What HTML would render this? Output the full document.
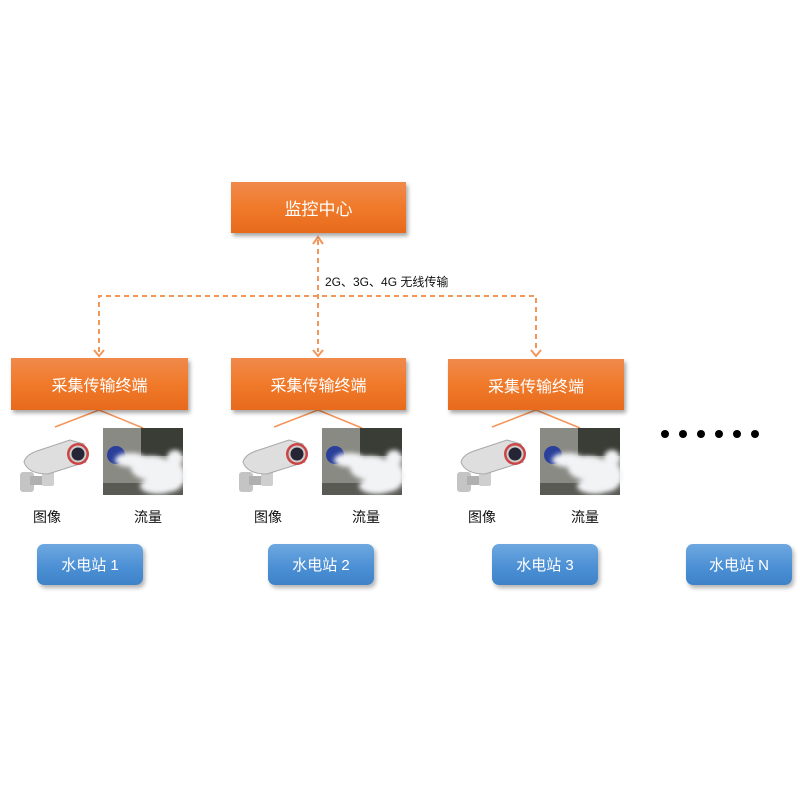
<!DOCTYPE html>
<html><head><meta charset="utf-8"><style>
body{margin:0;width:800px;height:800px;background:#fff;position:relative;overflow:hidden;font-family:"Liberation Sans","Noto Sans CJK SC",sans-serif}
.o{position:absolute;background:linear-gradient(#f08a4c,#f07a2a 50%,#e86a1c);color:#fff;font-size:16px;display:flex;align-items:center;justify-content:center;box-shadow:2px 3px 4px rgba(0,0,0,.35)}
.b{position:absolute;width:106px;height:41px;border-radius:7px;background:linear-gradient(#6ea8e0,#4a8ed4 60%,#3f82c8);color:#fff;font-size:15px;display:flex;align-items:center;justify-content:center;box-shadow:2px 3px 4px rgba(0,0,0,.3)}
.l{position:absolute;font-size:14px;color:#111}
.d{position:absolute;width:8px;height:8px;border-radius:50%;background:#000;top:430px}
</style></head><body>
<svg width="800" height="800" style="position:absolute;left:0;top:0">
<defs>
<filter id="bl"><feGaussianBlur stdDeviation="2.5"/></filter>
<g id="cam">
<rect x="0" y="34" width="14" height="20" rx="3" fill="#c4c4c4"/>
<rect x="10" y="38" width="16" height="9" fill="#b0b0b0"/>
<rect x="22" y="26" width="12" height="22" rx="2" fill="#cfcfcf"/>
<path d="M4 24 Q6 16 20 12 L50 2 L64 6 L66 24 L28 36 Q8 36 4 24Z" fill="#dedede" stroke="#a8a8a8"/>
<circle cx="58" cy="16" r="11" fill="#c44"/>
<circle cx="58" cy="16" r="8.5" fill="#ccc"/>
<circle cx="58" cy="16" r="6.5" fill="#252535"/>
</g>
<g id="water">
<rect width="80" height="67" fill="#8a8a84"/>
<rect x="38" width="42" height="28" fill="#3a3d36"/>
<rect x="0" y="55" width="80" height="12" fill="#5a5a55"/>
<circle cx="13" cy="27" r="9" fill="#2a3f9a"/>
<g filter="url(#bl)" fill="#f2f3f5">
<ellipse cx="28" cy="32" rx="16" ry="7"/>
<ellipse cx="48" cy="40" rx="20" ry="12"/>
<ellipse cx="66" cy="48" rx="16" ry="16"/>
<ellipse cx="55" cy="58" rx="18" ry="8"/>
<ellipse cx="72" cy="30" rx="8" ry="8"/>
</g>
</g>
</defs>
<g stroke="#f4955a" stroke-width="2" stroke-dasharray="5,4" fill="none">
<line x1="318" y1="240" x2="318" y2="352"/>
<polyline points="99,352 99,296 536,296 536,352"/>
</g>
<g stroke="#f4955a" stroke-width="2" fill="none">
<polyline points="313,244 318,237 323,244"/>
<polyline points="94,350 99,356 104,350"/>
<polyline points="313,350 318,356 323,350"/>
<polyline points="531,350 536,356 541,350"/>
</g>
<g stroke="#f4955a" stroke-width="1.5">
<line x1="99" y1="410" x2="55" y2="427"/><line x1="99" y1="410" x2="143" y2="428"/>
<line x1="318" y1="410" x2="274" y2="427"/><line x1="318" y1="410" x2="362" y2="428"/>
<line x1="536" y1="410" x2="492" y2="427"/><line x1="536" y1="410" x2="580" y2="428"/>
</g>
<use href="#cam" x="20" y="438"/><use href="#cam" x="239" y="438"/><use href="#cam" x="457" y="438"/>
<use href="#water" x="103" y="428"/><use href="#water" x="322" y="428"/><use href="#water" x="540" y="428"/>
</svg>
<div class="o" style="left:231px;top:182px;width:175px;height:51px;font-size:17px">监控中心</div>
<div class="o" style="left:11px;top:358px;width:177px;height:52px">采集传输终端</div>
<div class="o" style="left:231px;top:358px;width:175px;height:52px">采集传输终端</div>
<div class="o" style="left:448px;top:359px;width:176px;height:51px">采集传输终端</div>
<div class="l" style="left:325px;top:273px;font-size:12px">2G、3G、4G 无线传输</div>
<div class="l" style="left:33px;top:507px">图像</div><div class="l" style="left:134px;top:507px">流量</div>
<div class="l" style="left:254px;top:507px">图像</div><div class="l" style="left:352px;top:507px">流量</div>
<div class="l" style="left:468px;top:507px">图像</div><div class="l" style="left:571px;top:507px">流量</div>
<div class="b" style="left:37px;top:544px">水电站 1</div>
<div class="b" style="left:268px;top:544px">水电站 2</div>
<div class="b" style="left:492px;top:544px">水电站 3</div>
<div class="b" style="left:686px;top:544px">水电站 N</div>
<div class="d" style="left:661px"></div><div class="d" style="left:679px"></div><div class="d" style="left:697px"></div>
<div class="d" style="left:715px"></div><div class="d" style="left:733px"></div><div class="d" style="left:751px"></div>
</body></html>
